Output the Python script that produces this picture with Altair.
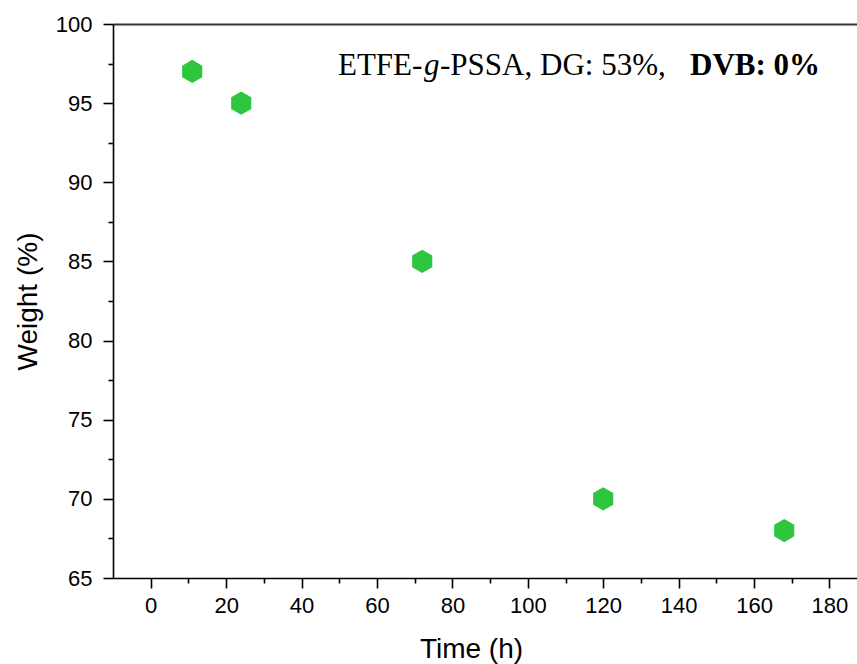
import altair as alt
import pandas as pd

# Data
time_h = [11, 24, 72, 120, 168]
weight = [97, 95, 85, 70, 68]

x_major = [0, 20, 40, 60, 80, 100, 120, 140, 160, 180]
x_minor = [10, 30, 50, 70, 90, 110, 130, 150, 170]
y_major = [65, 70, 75, 80, 85, 90, 95, 100]
y_minor = [67.5, 72.5, 77.5, 82.5, 87.5, 92.5, 97.5]

ann_texts = ["ETFE-", "g", "-PSSA,", "DG: 53%,", "DVB: 0%"]
ann_px = [225, 311, 327, 427, 577]
ann_style = ["normal", "italic", "normal", "normal", "normal"]
ann_weight = ["normal", "normal", "normal", "normal", "bold"]

df = pd.DataFrame({"t": time_h, "w": weight})

W, H = 744, 554
xscale = alt.Scale(domain=[-10, 187.3], nice=False, zero=False)
yscale = alt.Scale(domain=[65, 100], nice=False, zero=False)

hexagon = "M0,-1 L0.866,-0.5 L0.866,0.5 L0,1 L-0.866,0.5 L-0.866,-0.5 Z"

axis_common = dict(domainColor="black", tickColor="black", domainWidth=1.6, tickWidth=1.6,
                   labelColor="black", titleColor="black", grid=False,
                   labelFont="Liberation Sans", titleFont="Liberation Sans",
                   titleFontWeight="normal")

points = alt.Chart(df).mark_point(shape=hexagon, filled=True, size=540, color="#2dc63e",
                                  opacity=1, strokeWidth=0).encode(
    x=alt.X("t:Q", scale=xscale, axis=alt.Axis(
        orient="bottom", values=x_major, tickSize=10, labelFontSize=22, labelPadding=7,
        title="Time (h)", titleFontSize=28, titleX=358, titleY=79,
        titleBaseline="alphabetic", titleAnchor="start", titleAlign="center", **axis_common)),
    y=alt.Y("w:Q", scale=yscale, axis=alt.Axis(
        orient="left", values=y_major, tickSize=10, labelFontSize=22, labelPadding=11,
        title="Weight (%)", titleFontSize=28, titleX=-85, titleY=H / 2, titleAngle=-90,
        titleBaseline="middle", titleAlign="center", titleAnchor="start", **axis_common)),
)

minor = alt.Chart(df).mark_point(opacity=0).encode(
    x=alt.X("t:Q", scale=xscale, axis=alt.Axis(
        orient="bottom", values=x_minor, tickSize=5, labels=False, domain=False,
        title=None, **axis_common)),
    y=alt.Y("w:Q", scale=yscale, axis=alt.Axis(
        orient="left", values=y_minor, tickSize=5, labels=False, domain=False,
        title=None, **axis_common)),
)

top = alt.Chart(df).mark_point(opacity=0).encode(
    x=alt.X("t:Q", scale=xscale, axis=alt.Axis(
        orient="top", ticks=False, labels=False, domain=True, title=None,
        domainColor="#333333", domainWidth=2, grid=False)),
)

ann_df = pd.DataFrame({"txt": ann_texts, "px": ann_px, "st": ann_style, "wt": ann_weight})
ann_layers = []
for i in range(len(ann_texts)):
    ann_layers.append(
        alt.Chart(ann_df.iloc[[i]]).mark_text(
            align="left", baseline="alphabetic", font="Liberation Serif", fontSize=31,
            fontStyle=ann_style[i], fontWeight=ann_weight[i], color="black").encode(
            text="txt:N", x=alt.value(ann_px[i]), y=alt.value(51))
    )

chart = alt.layer(points, minor, top, *ann_layers).resolve_axis(
    x="independent", y="independent"
).properties(
    width=W, height=H,
    padding={"left": 113, "top": 24, "right": 0, "bottom": 86},
    autosize=alt.AutoSizeParams(type="none"),
).configure_view(stroke=None).configure(background="white")

chart.save("out.html", embed_options={"renderer": "svg", "actions": False})
